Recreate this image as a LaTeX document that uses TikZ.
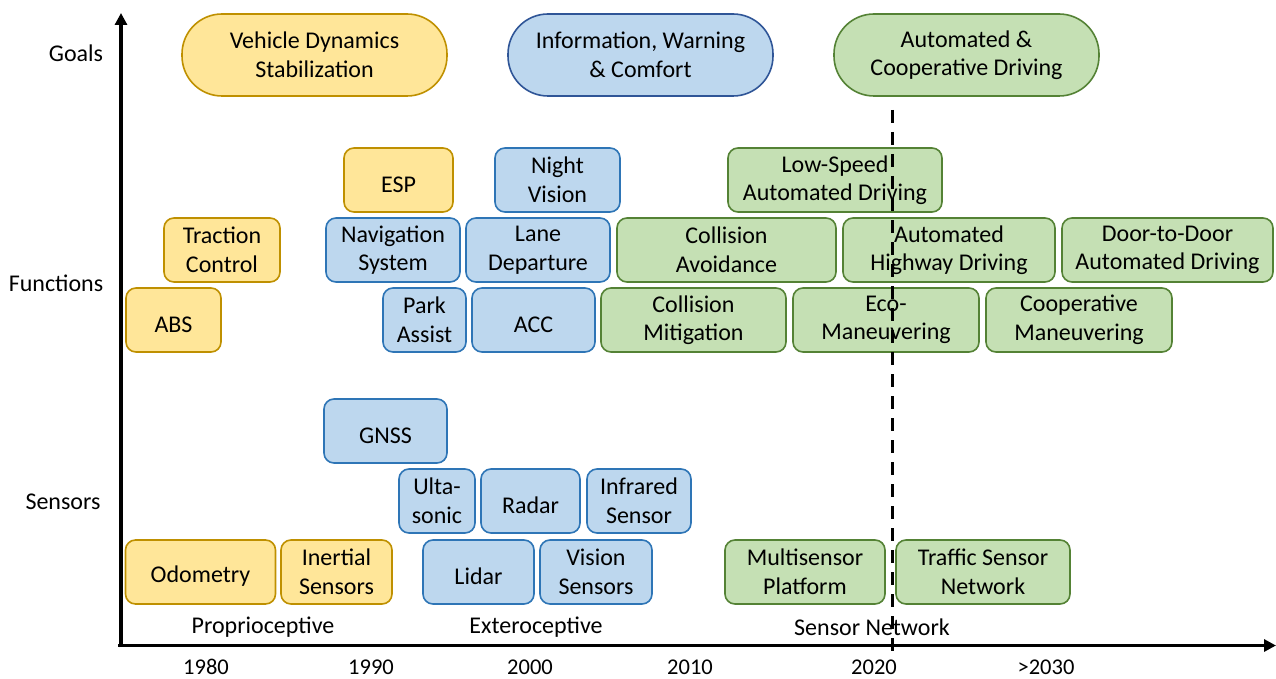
\documentclass[tikz,border=0pt]{standalone}
\usepackage{fontspec}
\setmainfont{Carlito}
\usetikzlibrary{arrows.meta}
\definecolor{yfill}{HTML}{FFE699}
\definecolor{ydraw}{HTML}{BF9000}
\definecolor{bfill}{HTML}{BDD7EE}
\definecolor{bdraw}{HTML}{2E75B6}
\definecolor{bdarkdraw}{HTML}{2F5597}
\definecolor{gfill}{HTML}{C5E0B4}
\definecolor{gdraw}{HTML}{548235}
\tikzset{
  basebox/.style={rounded corners=10pt, line width=1.6pt, align=center, inner sep=0pt,
    font=\fontsize{24}{28.5}\selectfont, text=black,
    execute at begin node={\rule{0pt}{25pt}}},
  ybox/.style={basebox, fill=yfill, draw=ydraw},
  bbox/.style={basebox, fill=bfill, draw=bdraw},
  gbox/.style={basebox, fill=gfill, draw=gdraw},
  goalbox/.style={rounded corners=40pt},
  lab/.style={font=\fontsize{24}{28}\selectfont, text=black, inner sep=0pt},
  yearlab/.style={font=\fontsize{22.5}{27}\selectfont, text=black, inner sep=0pt},
  axis/.style={line width=3.6pt, -{Triangle[length=12pt,width=12pt]}},
  divider/.style={line width=3pt, dash pattern=on 13pt off 9pt}
}
\begin{document}
\begin{tikzpicture}[x=1pt,y=-1pt]
\useasboundingbox (0,0) rectangle (1276,679);
% Goals
\node[ybox,goalbox,minimum width=265pt,minimum height=82pt] (gvds) at (314.5,55) {Vehicle Dynamics\\Stabilization};
\node[bbox,goalbox,draw=bdarkdraw,minimum width=265pt,minimum height=82pt] (giwc) at (640.5,55) {Information, Warning\\\& Comfort};
\node[gbox,goalbox,minimum width=265pt,minimum height=82pt] (gacd) at (966.5,55) {Automated \&\\Cooperative Driving};
% Functions row 1
\node[ybox,minimum width=109pt,minimum height=64pt] (esp) at (398.5,180) {ESP};
\node[bbox,minimum width=125pt,minimum height=64pt] (nv) at (557.5,180) {Night\\Vision};
\node[gbox,minimum width=214pt,minimum height=64pt] (lsad) at (835,180) {Low-Speed\\Automated Driving};
% Functions row 2
\node[ybox,minimum width=116pt,minimum height=64pt] (tc) at (222,250) {Traction\\Control};
\node[bbox,minimum width=134pt,minimum height=64pt] (nav) at (393,250) {Navigation\\System};
\node[bbox,minimum width=144pt,minimum height=64pt] (ld) at (538,250) {Lane\\Departure};
\node[gbox,minimum width=219pt,minimum height=64pt] (ca) at (726.5,250) {Collision\\Avoidance};
\node[gbox,minimum width=212pt,minimum height=64pt] (ahd) at (949,250) {Automated\\Highway Driving};
\node[gbox,minimum width=211pt,minimum height=64pt] (dtd) at (1167.5,250) {Door-to-Door\\Automated Driving};
% Functions row 3
\node[ybox,minimum width=95pt,minimum height=64pt] (abs) at (173.5,320) {ABS};
\node[bbox,minimum width=83pt,minimum height=64pt] (pa) at (424.5,320) {Park\\Assist};
\node[bbox,minimum width=123pt,minimum height=64pt] (acc) at (533.5,320) {ACC};
\node[gbox,minimum width=185pt,minimum height=64pt] (cm) at (693.5,320) {Collision\\Mitigation};
\node[gbox,minimum width=186pt,minimum height=64pt] (eco) at (886,320) {Eco-\\Maneuvering};
\node[gbox,minimum width=186pt,minimum height=64pt] (coop) at (1079,320) {Cooperative\\Maneuvering};
% Sensors
\node[bbox,minimum width=123pt,minimum height=64pt] (gnss) at (385.5,431) {GNSS};
\node[bbox,minimum width=76pt,minimum height=64pt] (us) at (437,501) {Ulta-\\sonic};
\node[bbox,minimum width=99pt,minimum height=64pt] (radar) at (530.5,501) {Radar};
\node[bbox,minimum width=104pt,minimum height=64pt] (ir) at (639,501) {Infrared\\Sensor};
\node[ybox,minimum width=150pt,minimum height=64pt] (odo) at (200.5,572) {Odometry};
\node[ybox,minimum width=111pt,minimum height=64pt] (ins) at (336.5,572) {Inertial\\Sensors};
\node[bbox,minimum width=111pt,minimum height=64pt] (lidar) at (478.5,572) {Lidar};
\node[bbox,minimum width=112pt,minimum height=64pt] (vis) at (596,572) {Vision\\Sensors};
\node[gbox,minimum width=160pt,minimum height=64pt] (msp) at (805,572) {Multisensor\\Platform};
\node[gbox,minimum width=174pt,minimum height=64pt] (tsn) at (983,572) {Traffic Sensor\\Network};
% Category captions
\node[lab] (cprop) at (263,627) {Proprioceptive};
\node[lab] (cext) at (536,627) {Exteroceptive};
\node[lab] (csn) at (872,627) {Sensor Network};
% Row labels
\node[lab] (lgoals) at (76,53) {Goals};
\node[lab] (lfunc) at (56,283) {Functions};
\node[lab] (lsens) at (63,502) {Sensors};
% Axes
\coordinate (ytop) at (121,13);
\coordinate (xend) at (1276,645.5);
\coordinate (xstart) at (118,645.5);
\draw[axis] (121,647.3) -- (ytop);
\draw[axis] (xstart) -- (xend);
% Dashed divider
\coordinate (dtop) at (892,110);
\coordinate (dbot) at (892,655);
\draw[divider] (dtop) -- (dbot);
% Years
\node[yearlab] (y1980) at (206,667) {1980};
\node[yearlab] (y1990) at (371,667) {1990};
\node[yearlab] (y2000) at (530,667) {2000};
\node[yearlab] (y2010) at (690,667) {2010};
\node[yearlab] (y2020) at (874,667) {2020};
\node[yearlab] (y2030) at (1046,667) {>2030};
\end{tikzpicture}
\end{document}
